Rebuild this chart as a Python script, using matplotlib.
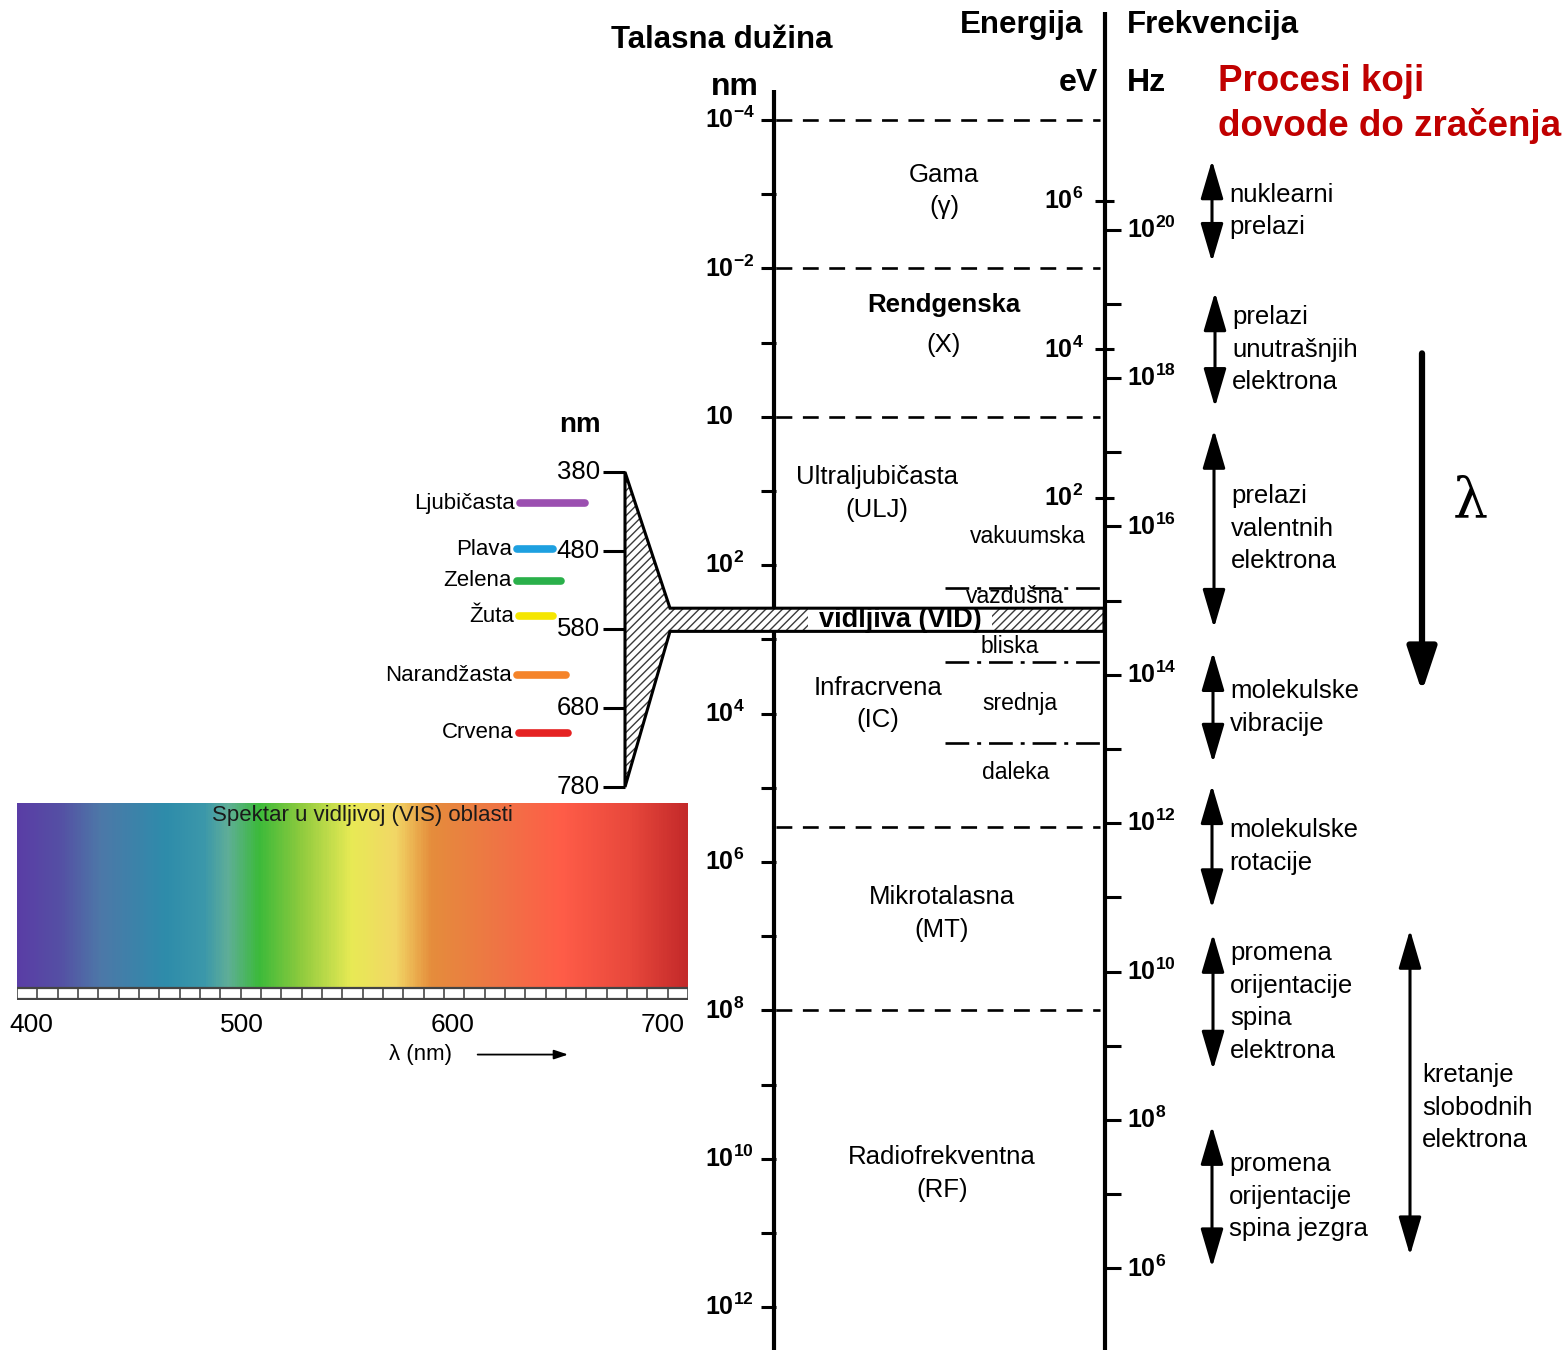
import numpy as np
import matplotlib
matplotlib.use('Agg')
import matplotlib.pyplot as plt
from matplotlib.colors import LinearSegmentedColormap, Normalize
from matplotlib.patches import Polygon

plt.rcParams['font.family'] = ['Liberation Sans', 'DejaVu Sans']
plt.rcParams['mathtext.fontset'] = 'custom'
plt.rcParams['mathtext.rm'] = 'Liberation Sans'
plt.rcParams['mathtext.it'] = 'Liberation Sans:italic'
plt.rcParams['mathtext.bf'] = 'Liberation Sans:bold'
plt.rcParams['hatch.linewidth'] = 1.0

# --- podaci ---
# talasna duzina (nm)
tl_podeoci = [1e-4, 1e-2, 1, 1e2, 1e4, 1e6, 1e8, 1e10, 1e12]
tl_oznake = [r'$\mathbf{10^{-4}}$', r'$\mathbf{10^{-2}}$', r'$\mathbf{10}$',
             r'$\mathbf{10^{2}}$', r'$\mathbf{10^{4}}$', r'$\mathbf{10^{6}}$',
             r'$\mathbf{10^{8}}$', r'$\mathbf{10^{10}}$', r'$\mathbf{10^{12}}$']
tl_sitni = [1e-3, 1e-1, 1e1, 1e3, 1e5, 1e7, 1e9, 1e11]

# granice oblasti (nm)
granice = [1e-4, 1e-2, 1, 3.4e5, 1e8]
podgranice = [200, 2000, 25000]
vid_opseg = [380, 780]

# energija (eV) i frekvencija (Hz)
energija = [1e6, 1e4, 1e2]
en_oznake = [r'$\mathbf{10^{6}}$', r'$\mathbf{10^{4}}$', r'$\mathbf{10^{2}}$']
frekvencija = [1e20, 1e18, 1e16, 1e14, 1e12, 1e10, 1e8, 1e6]
fr_oznake = [r'$\mathbf{10^{20}}$', r'$\mathbf{10^{18}}$', r'$\mathbf{10^{16}}$',
             r'$\mathbf{10^{14}}$', r'$\mathbf{10^{12}}$', r'$\mathbf{10^{10}}$',
             r'$\mathbf{10^{8}}$', r'$\mathbf{10^{6}}$']
fr_sitni = [1e19, 1e17, 1e15, 1e13, 1e11, 1e9, 1e7]

oblasti = ['Gama', 'Rendgenska', 'Ultraljubičasta', 'Infracrvena', 'Mikrotalasna', 'Radiofrekventna']
oblasti_skr = ['(γ)', '(X)', '(ULJ)', '(IC)', '(MT)', '(RF)']
podoblasti = ['vakuumska', 'vazdušna', 'bliska', 'srednja', 'daleka']

procesi = ['nuklearni\nprelazi',
           'prelazi\nunutrašnjih\nelektrona',
           'prelazi\nvalentnih\nelektrona',
           'molekulske\nvibracije',
           'molekulske\nrotacije',
           'promena\norijentacije\nspina\nelektrona',
           'promena\norijentacije\nspina jezgra']
procesi_od = [3.5e-4, 0.021, 1.5, 1480, 9.2e4, 9.3e6, 3.6e9]
procesi_do = [8.2e-3, 0.74, 700, 4.6e4, 4.2e6, 6.3e8, 2.9e11]
slobodni_od, slobodni_do = 8.2e6, 2.0e11
lambda_od, lambda_do = 0.14, 5100

# vidljivi deo
vid_podeoci = [380, 480, 580, 680, 780]
boje_imena = ['Ljubičasta', 'Plava', 'Zelena', 'Žuta', 'Narandžasta', 'Crvena']
boje_nm = [420, 478, 518, 563, 638, 711]

spektar_nm = [393, 413, 432, 463, 482, 493, 508, 528, 552, 573, 590, 623, 652, 685, 712]
spektar_boje = ['#5a3ea6', '#5550a4', '#4d78a8', '#2e8cab', '#3c98aa', '#5fae98',
                '#3cba3a', '#8fcb3e', '#e8ea55', '#f2d766', '#e58d3c', '#ef7445',
                '#ff5d48', '#e8483c', '#c42a2a']
spektar_podeoci = [400, 500, 600, 700]

# --- crtanje ---
W, H = 1568, 1350
fig = plt.figure(figsize=(W / 100, H / 100), dpi=100)
ax = fig.add_axes([0, 0, 1, 1])
ax.set_xlim(0, W)
ax.set_yscale('log')
ax.set_ylim(10 ** 12.576, 10 ** -5.616)
ax.axis('off')

lw_osa = 3.0
# osa talasne duzine
ax.plot([774, 774], [10 ** -4.4, 10 ** 12.576], color='k', lw=lw_osa, solid_capstyle='butt')
ax.hlines(tl_podeoci + tl_sitni, 761, 776, color='k', lw=2.2)
for v, t in zip(tl_podeoci, tl_oznake):
    ax.text(705, v, t, ha='left', va='center', fontsize=18)

# osa energije / frekvencije
ax.plot([1105, 1105], [10 ** -5.454, 10 ** 12.576], color='k', lw=lw_osa, solid_capstyle='butt')
en_nm = [1239.84 / e for e in energija]
ax.hlines(en_nm, 1095, 1114, color='k', lw=2.2)
for v, t in zip(en_nm, en_oznake):
    ax.text(1044, v, t, ha='left', va='center', fontsize=18)
fr_nm = [2.998e17 / f for f in frekvencija]
fr_s_nm = [2.998e17 / f for f in fr_sitni]
ax.hlines(fr_nm + fr_s_nm, 1105, 1121, color='k', lw=2.2)
for v, t in zip(fr_nm, fr_oznake):
    ax.text(1127, v, t, ha='left', va='center', fontsize=18)

# granice oblasti
ax.hlines(granice, 776, 1100, color='k', lw=1.9, linestyles=[(0, (6, 4))])
ax.hlines(podgranice, 945, 1100, color='k', lw=1.9, linestyles=[(0, (9, 3, 1.5, 3))])

# nazivi oblasti
pol_obl = [(944, -3.04), (944, -1.24), (877, 1.03), (878, 3.87), (942, 6.69), (942, 10.2)]
for naziv, skr, (x, e) in zip(oblasti, oblasti_skr, pol_obl):
    deb = 'bold' if naziv.startswith('Rend') else 'normal'
    pomak = 0.27 if naziv.startswith('Rend') else 0.22
    ax.text(x, 10 ** (e - pomak), naziv, ha='center', va='center', fontsize=18.5, fontweight=deb)
    ax.text(x, 10 ** (e + pomak), skr, ha='center', va='center', fontsize=18.5)
pol_pod = [(1028, 1.61), (1015, 2.42), (1010, 3.10), (1020, 3.86), (1016, 4.79)]
for naziv, (x, e) in zip(podoblasti, pol_pod):
    ax.text(x, 10 ** e, naziv, ha='center', va='center', fontsize=16.5)

# procesi
x_str = [1212, 1215, 1214, 1213, 1212, 1213, 1212]
for p, a, b, x in zip(procesi, procesi_od, procesi_do, x_str):
    ax.annotate('', xy=(x, b), xytext=(x, a),
                arrowprops=dict(arrowstyle='<|-|>,head_length=1.7,head_width=0.5',
                                color='k', lw=2.2, mutation_scale=14,
                                shrinkA=0, shrinkB=0))
    ax.text(x + 17, np.sqrt(a * b), p, ha='left', va='center', fontsize=18.5,
            linespacing=1.45)

ax.annotate('', xy=(1410, slobodni_do), xytext=(1410, slobodni_od),
            arrowprops=dict(arrowstyle='<|-|>,head_length=1.7,head_width=0.5',
                            color='k', lw=2.2, mutation_scale=14, shrinkA=0, shrinkB=0))
ax.text(1422, 10 ** 9.31, 'kretanje\nslobodnih\nelektrona',
        ha='left', va='center', fontsize=18.5, linespacing=1.45)

ax.annotate('', xy=(1422, lambda_do), xytext=(1422, lambda_od),
            arrowprops=dict(arrowstyle='-|>,head_length=1.5,head_width=0.5',
                            color='k', lw=4.5, mutation_scale=18, shrinkA=0, shrinkB=0))
ax.text(1470, 10 ** 1.15, 'λ', ha='center', va='center', fontsize=40, family='DejaVu Serif')

# naslovi
def fy(p):
    return 1 - p / H

fig.text(722 / W, fy(40), 'Talasna dužina', ha='center', va='center', fontsize=22.5, fontweight='bold')
fig.text(1022 / W, fy(25), 'Energija', ha='center', va='center', fontsize=22.5, fontweight='bold')
fig.text(1127 / W, fy(25), 'Frekvencija', ha='left', va='center', fontsize=22.5, fontweight='bold')
fig.text(735 / W, fy(87), 'nm', ha='center', va='center', fontsize=23, fontweight='bold')
fig.text(1098 / W, fy(83), 'eV', ha='right', va='center', fontsize=23, fontweight='bold')
fig.text(1127 / W, fy(83), 'Hz', ha='left', va='center', fontsize=23, fontweight='bold')
fig.text(1218 / W, fy(104), 'Procesi koji\ndovode do zračenja', ha='left', va='center',
         fontsize=26.5, fontweight='bold', color='#c00000', linespacing=1.32)

# --- vidljivi deo (linearna skala u nm) ---
ax2 = fig.add_axes([0, 0, 1, 1])
ax2.patch.set_visible(False)
ax2.axis('off')
ax2.set_xlim(0, W)
k = 0.7875
ax2.set_ylim(380 + (H - 472) / k, 380 - 472 / k)


def u_ax2(lam):
    d = ax.transData.transform((0, lam))
    return ax2.transData.inverted().transform(d)[1]


v1, v2 = u_ax2(vid_opseg[0]), u_ax2(vid_opseg[1])
oblik = [(625, vid_podeoci[0]), (670, v1), (1104, v1), (1104, v2), (670, v2), (625, vid_podeoci[-1])]
ax2.add_patch(Polygon(oblik, closed=True, facecolor='white', edgecolor='#3a3a3a',
                      hatch='////', lw=0, zorder=2))
ax2.fill_between([808, 992], v1, v2, color='white', lw=0, zorder=3)
ax2.add_patch(Polygon(oblik, closed=True, fill=False, edgecolor='k', lw=2.2, zorder=5))
ax2.text(900, (v1 + v2) / 2, 'vidljiva (VID)', ha='center', va='center', fontsize=19.5,
         fontweight='bold', zorder=4)

ax2.hlines(vid_podeoci, 603, 625, color='k', lw=2.2)
for v in vid_podeoci:
    ax2.text(600, v, str(v), ha='right', va='center', fontsize=18.5)
ax2.text(580, 380 + (425 - 472) / k, 'nm', ha='center', va='center', fontsize=20, fontweight='bold')

boje = ['#9b4fb0', '#1ea0e0', '#2ab04a', '#f5e600', '#f5842a', '#e52222']
boje_x = [(520, 585), (517, 553), (517, 561), (519, 553), (517, 566), (519, 568)]
for ime, nm, c, (x0, x1) in zip(boje_imena, boje_nm, boje, boje_x):
    ax2.plot([x0, x1], [nm, nm], color=c, lw=5.5, solid_capstyle='round')
    ax2.text(x0 - 5, nm, ime, ha='right', va='center', fontsize=16)

# --- spektar ---
ax3 = fig.add_axes([17 / W, 1 - 1000 / H, 671 / W, 197 / H])
ax3.axis('off')
cmap = LinearSegmentedColormap.from_list(
    'spektar', [((n - spektar_nm[0]) / (spektar_nm[-1] - spektar_nm[0]), c)
                for n, c in zip(spektar_nm, spektar_boje)])
grad = np.linspace(spektar_nm[0], spektar_nm[-1], 600).reshape(1, -1)
ax3.imshow(grad, extent=(spektar_nm[0], spektar_nm[-1], 0, 1), aspect='auto', cmap=cmap,
           norm=Normalize(spektar_nm[0], spektar_nm[-1]))
ax3.set_xlim(spektar_nm[0], spektar_nm[-1])
ax3.set_ylim(-0.065, 1)
ax3.vlines(np.linspace(spektar_nm[0], spektar_nm[-1], 34), -0.062, 0, color='#555555', lw=1.3)
ax3.hlines([0, -0.06], spektar_nm[0], spektar_nm[-1], color='#444444', lw=1.6)
ax3.text(557, 0.935, 'Spektar u vidljivoj (VIS) oblasti', ha='center', va='center',
         fontsize=16, color='#1a1a1a')
for v in spektar_podeoci:
    ax3.text(v, -0.2, str(v), ha='center', va='center', fontsize=19)
ax3.text(585, -0.36, 'λ (nm)', ha='center', va='center', fontsize=16)
ax3.annotate('', xy=(655, -0.36), xytext=(612, -0.36), annotation_clip=False,
             arrowprops=dict(arrowstyle='-|>,head_length=0.6,head_width=0.2', color='k',
                             lw=1.3, mutation_scale=14, shrinkA=0, shrinkB=0))

fig.savefig('out.png', dpi=100, facecolor='white')
